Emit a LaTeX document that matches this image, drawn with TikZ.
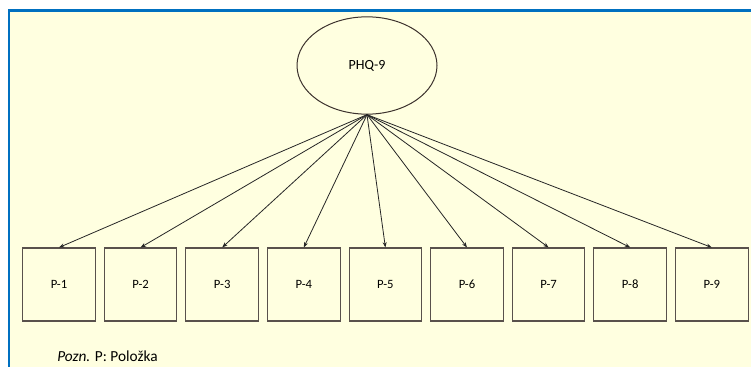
\documentclass[tikz,border=0pt]{standalone}
\usepackage{fontspec}
\setmainfont{Carlito}
\usetikzlibrary{arrows.meta,positioning,shapes.geometric}

\definecolor{frameblue}{RGB}{0,112,192}
\definecolor{paper}{RGB}{255,255,224}
\definecolor{ink}{RGB}{60,50,45}

\tikzset{
  factor/.style={draw=ink,ellipse,line width=0.75pt,minimum width=105pt,minimum height=73pt,inner sep=0pt,font=\fontsize{10.5}{12}\selectfont},
  item/.style={draw=ink!85,rectangle,line width=0.8pt,minimum width=54.4pt,minimum height=54.75pt,inner sep=0pt,font=\fontsize{9.5}{11}\selectfont},
  load/.style={draw=black!85,line width=0.6pt,-{Stealth[length=4pt,width=3pt]}}
}

\begin{document}
\begin{tikzpicture}[x=0.75pt,y=0.75pt,yscale=-1,xscale=1]
\useasboundingbox (0,0) rectangle (751,367);

%Background and frame
\fill [white] (0,0) rectangle (751,367);
\begin{scope}
\clip (0,0) rectangle (751,367);
\draw [frameblue,line width=1.6pt,fill=paper] (9,10.5) rectangle (780,400);
\end{scope}

%Latent factor
\node [factor] (phq) at (367,65.5) {PHQ-9};

%Items
\foreach \i in {1,...,9}
  \node [item] (p\i) at ({59+(\i-1)*81.6},284.5) {P-\i};

%Loadings
\foreach \i in {1,...,9}
  \draw [load] (phq.south) -- (p\i.north);

% Text Node
\node [anchor=base west,inner sep=0pt,font=\fontsize{11.5}{13}\selectfont] (note) at (57,362) {\textit{Pozn.} P: Položka};

\end{tikzpicture}
\end{document}
